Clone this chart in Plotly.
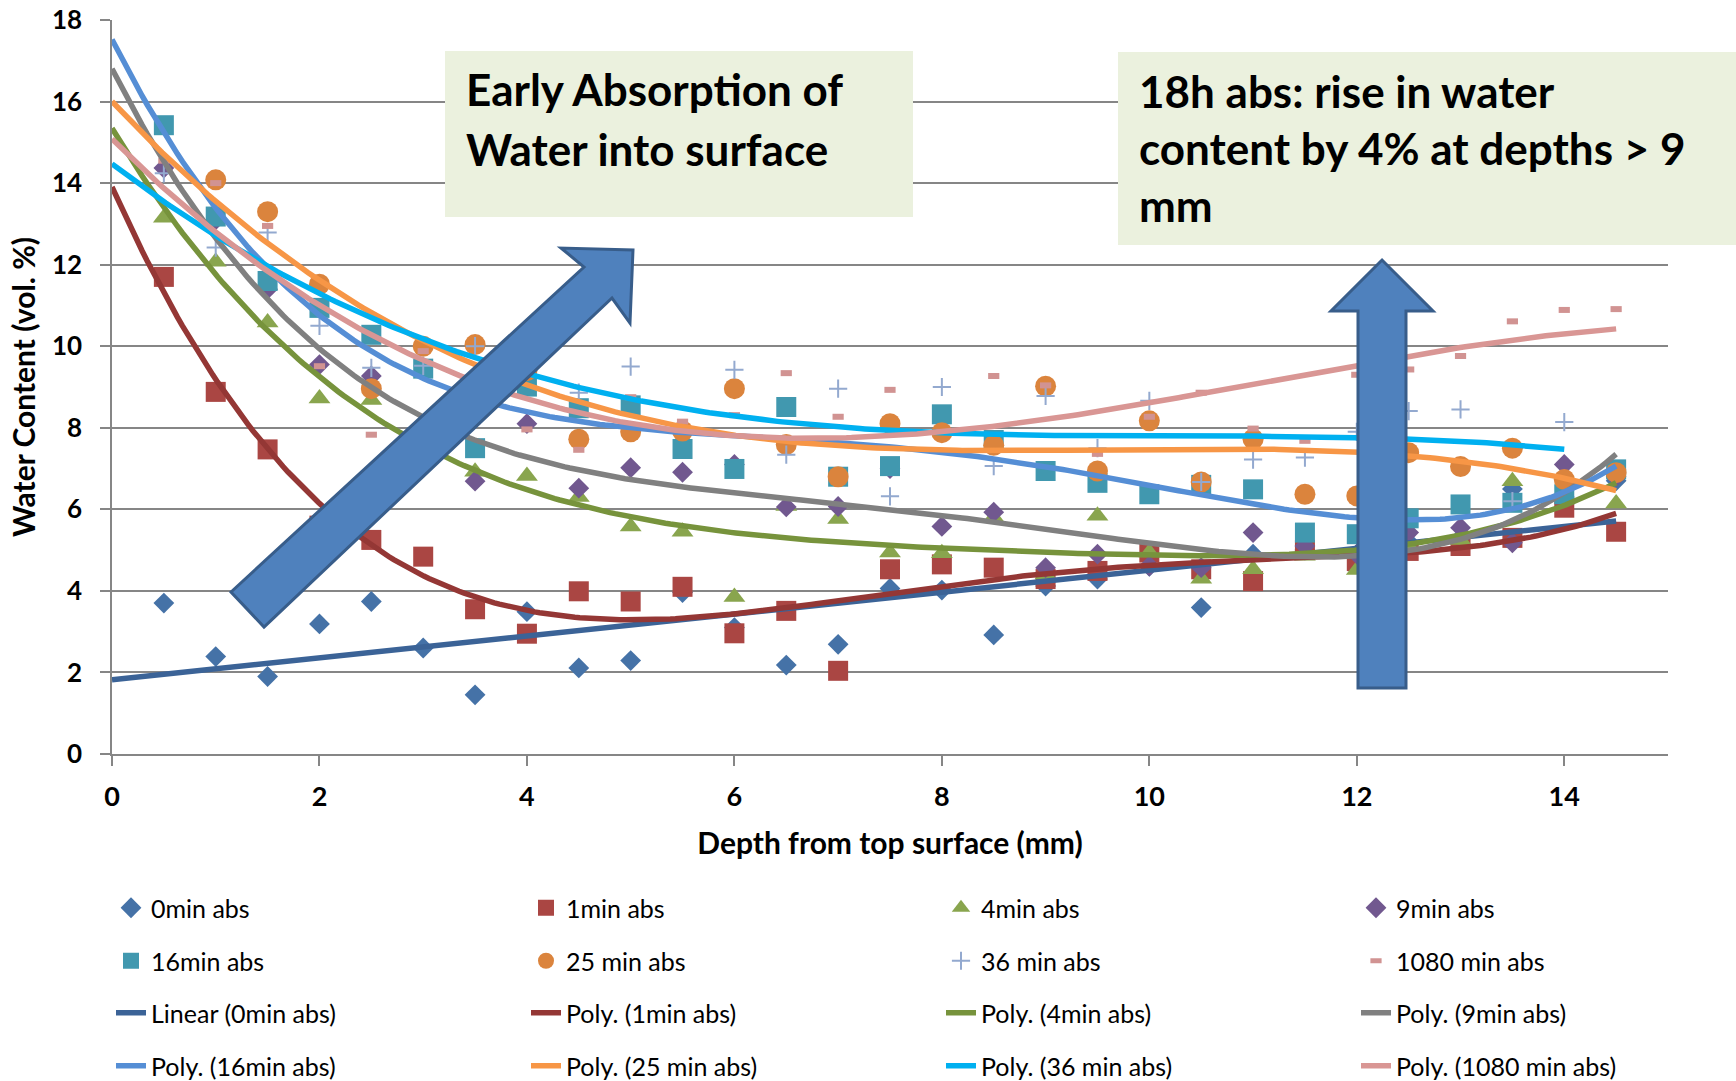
import numpy as np
import plotly.graph_objects as go

# ---------------- data ----------------
depth_mm = [0.5, 1.0, 1.5, 2.0, 2.5, 3.0, 3.5, 4.0, 4.5, 5.0, 5.5, 6.0, 6.5, 7.0, 7.5,
            8.0, 8.5, 9.0, 9.5, 10.0, 10.5, 11.0, 11.5, 12.0, 12.5, 13.0, 13.5, 14.0, 14.5]

wc_0min = [3.70, 2.39, 1.90, 3.19, 3.74, 2.60, 1.45, 3.49, 2.11, 2.29, 3.96, 3.10, 2.18, 2.69, 4.06,
           4.02, 2.92, 4.12, 4.29, 4.60, 3.59, 4.90, 5.00, 4.90, 5.20, 5.30, 6.50, 6.30, 6.70]
wc_1min = [11.70, 8.88, 7.47, 5.60, 5.25, 4.84, 3.55, 2.95, 3.99, 3.74, 4.10, 2.96, 3.51, 2.04, 4.53,
           4.65, 4.57, 4.29, 4.49, 4.94, 4.53, 4.24, 5.00, 4.73, 4.98, 5.10, 5.30, 6.04, 5.45]
wc_4min = [13.15, 12.07, 10.58, 8.72, 8.68, 7.50, 6.92, 6.82, 6.30, 5.58, 5.45, 3.85, 6.08, 5.76, 4.94,
           4.92, 5.80, 4.40, 5.84, 4.94, 4.30, 4.53, 4.86, 4.51, 5.10, 5.25, 6.69, 6.30, 6.14]
wc_9min = [14.37, 13.10, 11.40, 9.55, 9.27, 7.60, 6.69, 8.10, 6.52, 7.02, 6.91, 7.10, 6.06, 6.07, 7.00,
           5.58, 5.93, 4.57, 4.90, 4.61, 4.57, 5.43, 5.10, 4.90, 5.43, 5.55, 5.18, 7.10, 6.80]
wc_16min = [15.42, 13.18, 11.60, 10.94, 10.28, 9.45, 7.50, 9.01, 8.48, 8.55, 7.48, 6.99, 8.51, 6.80, 7.06,
            8.33, 7.70, 6.94, 6.65, 6.37, 6.60, 6.49, 5.43, 5.39, 5.78, 6.12, 6.16, 6.37, 6.98]
wc_25min = [None, 14.08, 13.30, 11.52, 8.96, 10.00, 10.04, 9.40, 7.72, 7.90, 7.92, 8.96, 7.59, 6.80, 8.10,
            7.88, 7.57, 9.02, 6.94, 8.17, 6.67, 7.72, 6.37, 6.33, 7.39, 7.05, 7.50, 6.73, 6.90]
wc_36min = [14.24, 12.42, 12.79, 10.50, 9.47, 9.52, 10.00, 9.60, 8.86, 9.50, None, 9.42, 7.34, 8.96, 6.32,
            9.00, 7.06, 8.78, 7.50, 8.66, 6.67, 7.22, 7.27, 7.90, 8.41, 8.45, 6.20, 8.14, None]
wc_1080min = [14.55, 14.00, 12.95, 9.51, 7.83, 9.88, 8.16, 7.96, 7.46, 8.75, 8.15, 8.31, 9.34, 8.27, 8.93,
              7.90, 9.27, 9.04, 7.36, 8.27, 8.86, 7.98, 7.68, 9.30, 9.43, 9.76, 10.61, 10.89, 10.91]

series_names = ["0min abs", "1min abs", "4min abs", "9min abs",
                "16min abs", "25 min abs", "36 min abs", "1080 min abs"]
trend_names = ["Linear (0min abs)", "Poly. (1min abs)", "Poly. (4min abs)", "Poly. (9min abs)",
               "Poly. (16min abs)", "Poly. (25 min abs)", "Poly. (36 min abs)", "Poly. (1080 min abs)"]
trend_degree = [1, 4, 4, 4, 4, 3, 3, 3]
all_values = [wc_0min, wc_1min, wc_4min, wc_9min, wc_16min, wc_25min, wc_36min, wc_1080min]

x_ticks = [0, 2, 4, 6, 8, 10, 12, 14]
y_ticks = [0, 2, 4, 6, 8, 10, 12, 14, 16, 18]

# ---------------- styles ----------------
marker_styles = [
    dict(symbol="diamond", size=16, color="#4572A7"),
    dict(symbol="square", size=20, color="#AA4643"),
    dict(symbol="triangle-up", size=19, color="#89A54E"),
    dict(symbol="diamond", size=16, color="#71588F"),
    dict(symbol="square", size=20, color="#4198AF"),
    dict(symbol="circle", size=21, color="#DB843D"),
    dict(symbol="cross-thin", size=13, color="#93A9CF", line=dict(color="#93A9CF", width=2)),
    dict(symbol="line-ew", size=8, color="#D19392", line=dict(color="#D19392", width=6)),
]
trend_colors = ["#3B6397", "#943735", "#77933C", "#808080",
                "#558ED5", "#F79646", "#00B0F0", "#D99694"]
legend_ids = ["legend", "legend", "legend", "legend",
              "legend2", "legend2", "legend2", "legend2"]
trend_legend_ids = ["legend3", "legend3", "legend3", "legend3",
                    "legend4", "legend4", "legend4", "legend4"]

W, H = 1736, 1081
ML, MR, MT, MB = 112, 68, 20, 327
PW, PH = W - ML - MR, H - MT - MB


def px2x(px):
    return (px - ML) / PW


def py2y(py):
    return (H - MB - py) / PH


fig = go.Figure()

# scatter markers
for i, vals in enumerate(all_values):
    fig.add_trace(go.Scatter(
        x=depth_mm, y=vals, mode="markers", name=series_names[i],
        marker=marker_styles[i], legend=legend_ids[i], cliponaxis=True,
    ))

# trendlines fitted from the data (as the spreadsheet did)
for i, vals in enumerate(all_values):
    xs = np.array([x for x, v in zip(depth_mm, vals) if v is not None])
    ys = np.array([v for v in vals if v is not None])
    coef = np.polyfit(xs, ys, trend_degree[i])
    xf = np.linspace(0, xs.max(), 300)
    yf = np.polyval(coef, xf)
    fig.add_trace(go.Scatter(
        x=xf, y=yf, mode="lines", name=trend_names[i],
        line=dict(color=trend_colors[i], width=5.5), legend=trend_legend_ids[i],
        hoverinfo="skip",
    ))

# ---------------- decorations ----------------
def poly_path(pts):
    return "M " + " L ".join(f"{px2x(a):.5f},{py2y(b):.5f}" for a, b in pts) + " Z"


diag_arrow = [(231, 592), (584, 267), (561, 248), (633, 250), (630, 323), (612, 298), (264, 627)]
up_arrow = [(1358, 688), (1358, 311), (1331, 311), (1382, 260), (1433, 311), (1406, 311), (1406, 688)]

shapes = [
    dict(type="rect", xref="paper", yref="paper", x0=px2x(445), x1=px2x(913), y0=py2y(217), y1=py2y(51),
         fillcolor="#EBF1DE", line=dict(width=0), layer="above"),
    dict(type="rect", xref="paper", yref="paper", x0=px2x(1118), x1=px2x(1736), y0=py2y(245), y1=py2y(52),
         fillcolor="#EBF1DE", line=dict(width=0), layer="above"),
    dict(type="path", xref="paper", yref="paper", path=poly_path(diag_arrow),
         fillcolor="#4F81BD", line=dict(color="#385D8A", width=3), layer="above"),
    dict(type="path", xref="paper", yref="paper", path=poly_path(up_arrow),
         fillcolor="#4F81BD", line=dict(color="#385D8A", width=3), layer="above"),
]

box_font = dict(family="Lato", size=44, color="black", weight="bold")
box_lines = [
    ("Early Absorption of", 464, 89),
    ("Water into surface", 464, 149),
    ("18h abs: rise in water", 1137, 91),
    ("content by 4% at depths > 9", 1137, 148),
    ("mm", 1137, 205),
]
annotations = [
    dict(text=t, xref="paper", yref="paper", x=px2x(xp), y=py2y(yp), xanchor="left", yanchor="middle",
         showarrow=False, font=box_font)
    for t, xp, yp in box_lines
]

legend_common = dict(orientation="h", xanchor="left", yanchor="middle", entrywidth=370,
                     entrywidthmode="pixels", font=dict(family="Lato", size=25, color="black"),
                     bgcolor="rgba(0,0,0,0)", itemsizing="trace", traceorder="normal", x=px2x(111))

fig.update_layout(
    width=W, height=H,
    margin=dict(l=ML, r=MR, t=MT, b=MB, autoexpand=False),
    paper_bgcolor="white", plot_bgcolor="white",
    font=dict(family="Lato", color="black"),
    shapes=shapes, annotations=annotations,
    legend=dict(legend_common, y=py2y(908)),
    legend2=dict(legend_common, y=py2y(961)),
    legend3=dict(legend_common, y=py2y(1013)),
    legend4=dict(legend_common, y=py2y(1066)),
    xaxis=dict(range=[0, 15], tickvals=x_ticks, ticks="outside", ticklen=10, tickwidth=1.5,
               tickcolor="#868686", showline=True, linecolor="#868686", linewidth=1.5,
               showgrid=False, zeroline=False, ticklabelstandoff=8,
               tickfont=dict(family="Lato", size=27, weight="bold", color="black"),
               title=dict(text="Depth from top surface (mm)", standoff=22,
                          font=dict(family="Lato", size=30, weight="bold", color="black"))),
    yaxis=dict(range=[0, 18], tickvals=y_ticks, ticks="outside", ticklen=10, tickwidth=1.5,
               tickcolor="#868686", showline=True, linecolor="#868686", linewidth=1.5,
               showgrid=True, gridcolor="#868686", gridwidth=1.5, zeroline=False,
               ticklabelstandoff=13,
               tickfont=dict(family="Lato", size=26, weight="bold", color="black"),
               title=dict(text="Water Content (vol. %)", standoff=7,
                          font=dict(family="Lato", size=30, weight="bold", color="black"))),
)

fig.write_html("out.html")
